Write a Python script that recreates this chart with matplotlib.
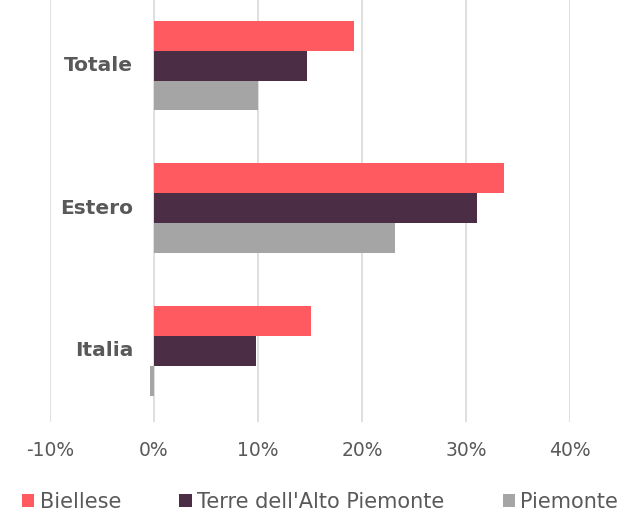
import matplotlib.pyplot as plt
import numpy as np
from matplotlib.ticker import FuncFormatter

# categories bottom -> top
categories = ["Italia", "Estero", "Totale"]
series_names = ["Biellese", "Terre dell'Alto Piemonte", "Piemonte"]
biellese = [15.1, 33.7, 19.2]
terre = [9.8, 31.1, 14.7]
piemonte = [-0.4, 23.2, 10.0]
colors = ["#FF5A5F", "#4B2D45", "#A5A5A5"]
xticks = [-10, 0, 10, 20, 30, 40]

plt.rcParams['font.family'] = ['DejaVu Sans']

fig = plt.figure(figsize=(6.28, 5.14), dpi=100)
ax = fig.add_axes([50 / 628, (514 - 422) / 514, 520 / 628, 422 / 514])

y = np.arange(len(categories))
h = 0.21
for i, (vals, name, col) in enumerate(zip([biellese, terre, piemonte], series_names, colors)):
    ax.barh(y + (1 - i) * h, vals, height=h, color=col, label=name, zorder=3)

ax.set_xlim(-10, 40)
ax.set_ylim(-0.5, 2.46)
ax.set_xticks(xticks)
ax.xaxis.set_major_formatter(FuncFormatter(lambda v, p: f"{v:.0f}%"))
ax.grid(axis='x', color='#D9D9D9', linewidth=1.2, zorder=0)
for s in ax.spines.values():
    s.set_visible(False)
ax.tick_params(axis='x', length=0, pad=14, labelsize=13.5, labelcolor='#595959')
ax.set_yticks([])

# category labels sit just left of the 0% line
for yi, cat in zip(y, categories):
    ax.text(-2, yi, cat, ha='right', va='center', fontsize=14.5,
            fontweight='bold', color='#595959')

ax.legend(loc='center', bbox_to_anchor=(270 / 520, -0.19), ncol=3, frameon=False,
          fontsize=15, handlelength=0.6, handleheight=0.6, handletextpad=0.25,
          columnspacing=2.8, labelcolor='#595959')

fig.savefig("out.png", dpi=100)
